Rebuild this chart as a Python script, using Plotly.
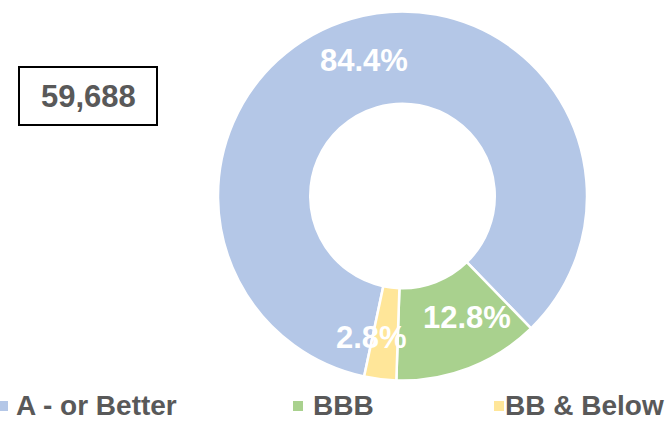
import plotly.graph_objects as go

# ---- data ----
categories = ["A - or Better", "BBB", "BB & Below"]
shares = [84.4, 12.8, 2.8]
total_value = 59688
colors = ["#B4C7E7", "#A9D18E", "#FFE699"]

W, H = 669, 422
FONT = "Liberation Sans, Arial, sans-serif"
GRAY = "#595959"

def px(x):
    return x / W

def py(y):
    return 1 - y / H

fig = go.Figure()
fig.add_trace(go.Pie(
    labels=categories,
    values=shares,
    sort=False,
    direction="clockwise",
    rotation=192,
    hole=0.5,
    marker=dict(colors=colors, line=dict(color="white", width=2.5)),
    textinfo="none",
    hoverinfo="label+percent",
    showlegend=False,
    domain=dict(x=[px(218), px(587)], y=[py(382), py(10)]),
))

# data labels (positions in pixels of the canvas)
label_pos = [(364, 60), (467, 317), (371, 337)]
annotations = []
for (lx, ly), v in zip(label_pos, shares):
    annotations.append(dict(
        x=px(lx), y=py(ly), xref="paper", yref="paper",
        text=f"<b>{v:.1f}%</b>", showarrow=False,
        xanchor="center", yanchor="middle",
        font=dict(family=FONT, size=31, color="white"),
    ))

# total box
shapes = [dict(type="rect", xref="paper", yref="paper",
               x0=px(19), x1=px(157), y0=py(125), y1=py(67),
               line=dict(color="black", width=2), fillcolor="white")]
annotations.append(dict(
    x=px(88), y=py(96), xref="paper", yref="paper",
    text=f"<b>{total_value:,}</b>", showarrow=False,
    xanchor="center", yanchor="middle",
    font=dict(family=FONT, size=31, color=GRAY),
))

# custom legend
legend_marker_x = [-2, 293, 494]
legend_text_x = [15, 312, 504]
for mx, tx, lab, c in zip(legend_marker_x, legend_text_x, categories, colors):
    shapes.append(dict(type="rect", xref="paper", yref="paper",
                       x0=px(mx), x1=px(mx + 10), y0=py(411), y1=py(401),
                       line=dict(width=0), fillcolor=c))
    annotations.append(dict(
        x=px(tx), y=0, xref="paper", yref="paper",
        text=f"<b>{lab}</b>", showarrow=False,
        xanchor="left", yanchor="bottom", borderpad=0,
        font=dict(family=FONT, size=28, color=GRAY),
    ))

fig.update_layout(
    width=W, height=H,
    margin=dict(l=0, r=0, t=0, b=0),
    paper_bgcolor="white", plot_bgcolor="white",
    shapes=shapes, annotations=annotations,
)

fig.write_html(
    "out.html",
    config={"displayModeBar": False},
    post_script="document.body.style.margin='0';document.body.style.overflow='hidden';",
)
